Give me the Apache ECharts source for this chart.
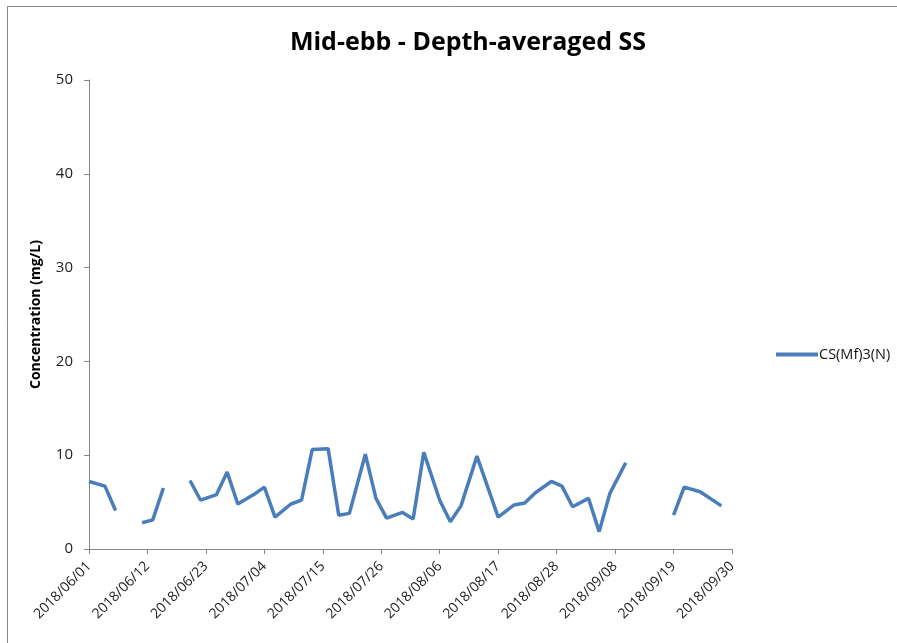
<!DOCTYPE html>
<html>
<head>
<meta charset="utf-8">
<script src="https://cdn.jsdelivr.net/npm/echarts@6/dist/echarts.min.js"></script>
<style>
    html, body { margin: 0; padding: 0; background: #fff; }
    #chart { width: 897px; height: 643px; }
</style>
</head>
<body>
<div id="chart"></div>
<script>
// sampling dates (empty cells kept as null so the line breaks there)
const dates = [
    '2018/06/01', '2018/06/04', '2018/06/06', '2018/06/08', '2018/06/11', '2018/06/13', '2018/06/15',
    '2018/06/18', '2018/06/20', '2018/06/22', '2018/06/25', '2018/06/27', '2018/06/29',
    '2018/07/02', '2018/07/04', '2018/07/06', '2018/07/09', '2018/07/11', '2018/07/13',
    '2018/07/16', '2018/07/18', '2018/07/20', '2018/07/23', '2018/07/25', '2018/07/27',
    '2018/07/30', '2018/08/01', '2018/08/03', '2018/08/06', '2018/08/08', '2018/08/10',
    '2018/08/13', '2018/08/17', '2018/08/20', '2018/08/22', '2018/08/24', '2018/08/27',
    '2018/08/29', '2018/08/31', '2018/09/03', '2018/09/05', '2018/09/07', '2018/09/10',
    '2018/09/12', '2018/09/19', '2018/09/21', '2018/09/24', '2018/09/28'
];
const ssValues = [
    7.2, 6.7, 4.1, null, 2.8, 3.1, 6.5,
    null, 7.3, 5.2, 5.8, 8.2, 4.8,
    5.8, 6.6, 3.4, 4.8, 5.2, 10.6,
    10.7, 3.6, 3.8, 10.1, 5.4, 3.3,
    3.9, 3.2, 10.3, 5.2, 2.9, 4.6,
    9.9, 3.4, 4.7, 4.9, 6.0, 7.2,
    6.7, 4.5, 5.4, 1.85, 5.9, 9.2,
    null, 3.6, 6.6, 6.1, 4.6
];
const seriesName = 'CS(Mf)3(N)';
const startDate = '2018/06/01';
const endDate = '2018/09/30';
const tickDays = 11;

// day number from the start date, so the x axis is a plain value scale
function toDay(s) {
    const p = s.split('/').map(Number);
    const q = startDate.split('/').map(Number);
    return (Date.UTC(p[0], p[1] - 1, p[2]) - Date.UTC(q[0], q[1] - 1, q[2])) / 86400000;
}
function toLabel(day) {
    const q = startDate.split('/').map(Number);
    const d = new Date(Date.UTC(q[0], q[1] - 1, q[2]) + day * 86400000);
    const mm = String(d.getUTCMonth() + 1).padStart(2, '0');
    const dd = String(d.getUTCDate()).padStart(2, '0');
    return d.getUTCFullYear() + '/' + mm + '/' + dd;
}

const points = dates.map((d, i) => [toDay(d), ssValues[i] == null ? '-' : ssValues[i]]);

const font = '"Open Sans", "DejaVu Sans", sans-serif';
const chart = echarts.init(document.getElementById('chart'));
chart.setOption({
    animation: false,
    textStyle: { fontFamily: font },
    title: {
        text: 'Mid-ebb - Depth-averaged SS',
        left: 463,
        top: 25,
        textAlign: 'center',
        textStyle: { fontFamily: font, fontSize: 25, fontWeight: 'bold', color: '#000' }
    },
    // outer chart border (only top and left are inside the picture)
    graphic: [{
        type: 'rect',
        shape: { x: 7.5, y: 6.5, width: 1000, height: 1000 },
        style: { fill: 'none', stroke: '#8a8a8a', lineWidth: 1 },
        silent: true
    }],
    legend: {
        data: [seriesName],
        left: 771,
        top: 342,
        itemWidth: 42,
        itemHeight: 4,
        itemGap: 0,
        textStyle: { fontFamily: font, fontSize: 14.5, color: '#111', padding: [0, 0, 0, -4] },
        icon: 'rect'
    },
    grid: { left: 89, right: 165, top: 80, bottom: 94, containLabel: false },
    xAxis: {
        type: 'value',
        min: 0,
        max: toDay(endDate),
        interval: tickDays,
        splitLine: { show: false },
        axisLine: { lineStyle: { color: '#868686' } },
        axisTick: { show: true, length: 5, lineStyle: { color: '#868686' } },
        axisLabel: {
            rotate: 45,
            margin: 15,
            fontSize: 14,
            color: '#222',
            formatter: v => toLabel(v)
        }
    },
    yAxis: {
        type: 'value',
        min: 0,
        max: 50,
        interval: 10,
        name: 'Concentration (mg/L)',
        nameLocation: 'middle',
        nameGap: 46,
        nameTextStyle: { fontFamily: font, fontSize: 14, fontWeight: 'bold', color: '#000' },
        splitLine: { show: false },
        axisLine: { show: true, lineStyle: { color: '#868686' } },
        axisTick: { show: true, length: 5, lineStyle: { color: '#868686' } },
        axisLabel: { fontSize: 15, color: '#222', margin: 16 }
    },
    series: [{
        name: seriesName,
        type: 'line',
        data: points,
        showSymbol: false,
        symbol: 'none',
        connectNulls: false,
        lineStyle: { color: '#4a7ebb', width: 3.5 },
        itemStyle: { color: '#4a7ebb' }
    }]
});
</script>
</body>
</html>
